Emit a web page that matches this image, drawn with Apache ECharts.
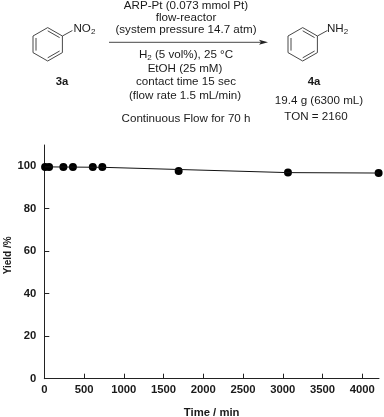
<!DOCTYPE html>
<html>
<head>
<meta charset="utf-8">
<style>
  html, body { margin: 0; padding: 0; background: #fff; }
  #chart { width: 384px; height: 417px; }
</style>
<script src="https://cdn.jsdelivr.net/npm/echarts@6/dist/echarts.min.js"></script>
</head>
<body>
<div id="chart"></div>
<script>
const times = [10, 60, 240, 360, 610, 730, 1690, 3065, 4205];
const yields = [99.7, 99.7, 99.7, 99.7, 99.7, 99.7, 97.8, 97, 96.8];
// the drawn line does not go through every point
const lineTimes = [10, 730, 3065, 4205];
const lineYields = [99.7, 99.5, 97, 96.8];
const xTicks = [0, 500, 1000, 1500, 2000, 2500, 3000, 3500, 4000];
const yTicks = [0, 20, 40, 60, 80, 100];

const aboveArrow = ["ARP-Pt (0.073 mmol Pt)", "flow-reactor", "(system pressure 14.7 atm)"];
const belowArrow = ["EtOH (25 mM)", "contact time 15 sec", "(flow rate 1.5 mL/min)"];

const FONT = '"Liberation Sans", Arial, sans-serif';
const INK = "#1a1a1a";

function label(x, y, text, extra) {
  return {
    type: "text",
    x: x,
    y: y,
    style: Object.assign({
      text: text,
      fill: INK,
      font: "11.6px " + FONT,
      align: "center",
      verticalAlign: "middle",
    }, extra),
  };
}

// text with a small subscript 2, used for NO2, NH2 and H2
function subLabel(x, y, text, tail, align) {
  return {
    type: "text",
    x: x,
    y: y,
    style: {
      rich: {
        m: { fontFamily: FONT, fontSize: 11.6, fill: INK, lineHeight: 14 },
        s: { fontFamily: FONT, fontSize: 8, fill: INK, padding: [5, 0, 0, 0], lineHeight: 14 },
      },
      text: "{m|" + text + "}{s|2}" + (tail ? "{m|" + tail + "}" : ""),
      align: align,
      verticalAlign: "middle",
    },
  };
}

function segment(x1, y1, x2, y2) {
  return {
    type: "line",
    shape: { x1: x1, y1: y1, x2: x2, y2: y2 },
    style: { stroke: "#333", lineWidth: 0.9 },
  };
}

function benzene(cx, cy) {
  const w = 14.7, h = 16.7, q = 8.3;
  return [
    segment(cx, cy - h, cx + w, cy - q),
    segment(cx + w, cy - q, cx + w, cy + q),
    segment(cx + w, cy + q, cx, cy + h),
    segment(cx, cy + h, cx - w, cy + q),
    segment(cx - w, cy + q, cx - w, cy - q),
    segment(cx - w, cy - q, cx, cy - h),
    segment(cx - w + 3, cy - q + 2, cx - w + 3, cy + q - 2),
    segment(cx, cy - h + 3.2, cx + w - 2.8, cy - q + 1.6),
    segment(cx, cy + h - 3.2, cx + w - 2.8, cy + q - 1.6),
    segment(cx + w, cy - q, cx + w + 10, cy - q - 5.5),
  ];
}

const scheme = [
  ...benzene(47.7, 44.3),
  subLabel(73.5, 29, "NO", "", "left"),
  ...benzene(302.7, 44.3),
  subLabel(327, 29, "NH", "", "left"),
  label(62, 82, "3a", { font: "bold 11.3px " + FONT }),
  label(314, 82, "4a", { font: "bold 11.3px " + FONT }),
  segment(109, 42.3, 262, 42.3),
  {
    type: "polygon",
    shape: { points: [[268, 42.3], [259, 39.8], [261, 42.3], [259, 44.8]] },
    style: { fill: "#222" },
  },
  label(186, 6, aboveArrow[0]),
  label(186, 18, aboveArrow[1]),
  label(186, 30, aboveArrow[2]),
  subLabel(186, 55, "H", " (5 vol%), 25 °C", "center"),
  label(185, 69, belowArrow[0]),
  label(186, 82, belowArrow[1]),
  label(185, 96, belowArrow[2]),
  label(186, 119, "Continuous Flow for 70 h"),
  label(319, 101, "19.4 g (6300 mL)"),
  label(316, 117, "TON = 2160"),
];

const chart = echarts.init(document.getElementById("chart"));
chart.setOption({
  animation: false,
  textStyle: { fontFamily: FONT },
  grid: { left: 44.3, right: 5, top: 145, bottom: 38.3, outerBoundsMode: "none" },
  xAxis: {
    type: "value",
    min: 0,
    max: 4210,
    name: "Time / min",
    nameLocation: "middle",
    nameGap: 28.5,
    nameMoveOverlap: false,
    nameTextStyle: { color: INK, fontSize: 11.3, fontWeight: "bold" },
    splitLine: { show: false },
    axisLine: { lineStyle: { color: "#222", width: 1 } },
    axisTick: { inside: true, length: 5, customValues: xTicks, lineStyle: { color: "#222", width: 1 } },
    axisLabel: {
      customValues: xTicks,
      formatter: (v) => String(v),
      color: INK,
      fontSize: 11.3,
      fontWeight: "bold",
      margin: 6,
    },
  },
  yAxis: {
    type: "value",
    min: 0,
    max: 110,
    name: "Yield /%",
    nameLocation: "middle",
    nameGap: 31,
    nameMoveOverlap: false,
    nameTextStyle: { color: INK, fontSize: 10, fontWeight: "bold", padding: [0, 0, 0, 13] },
    splitLine: { show: false },
    axisLine: { lineStyle: { color: "#222", width: 1 } },
    axisTick: { inside: true, length: 5, customValues: yTicks, lineStyle: { color: "#222", width: 1 } },
    axisLabel: {
      customValues: yTicks,
      color: INK,
      fontSize: 11.3,
      fontWeight: "bold",
      margin: 8,
      padding: [2, 0, 0, 0],
    },
  },
  series: [
    {
      type: "line",
      data: lineTimes.map((t, i) => [t, lineYields[i]]),
      symbol: "none",
      clip: false,
      lineStyle: { color: "#111", width: 1 },
    },
    {
      type: "scatter",
      data: times.map((t, i) => [t, yields[i]]),
      symbol: "circle",
      symbolSize: 8,
      clip: false,
      itemStyle: { color: "#000", opacity: 1 },
    },
  ],
  graphic: scheme,
});
</script>
</body>
</html>
